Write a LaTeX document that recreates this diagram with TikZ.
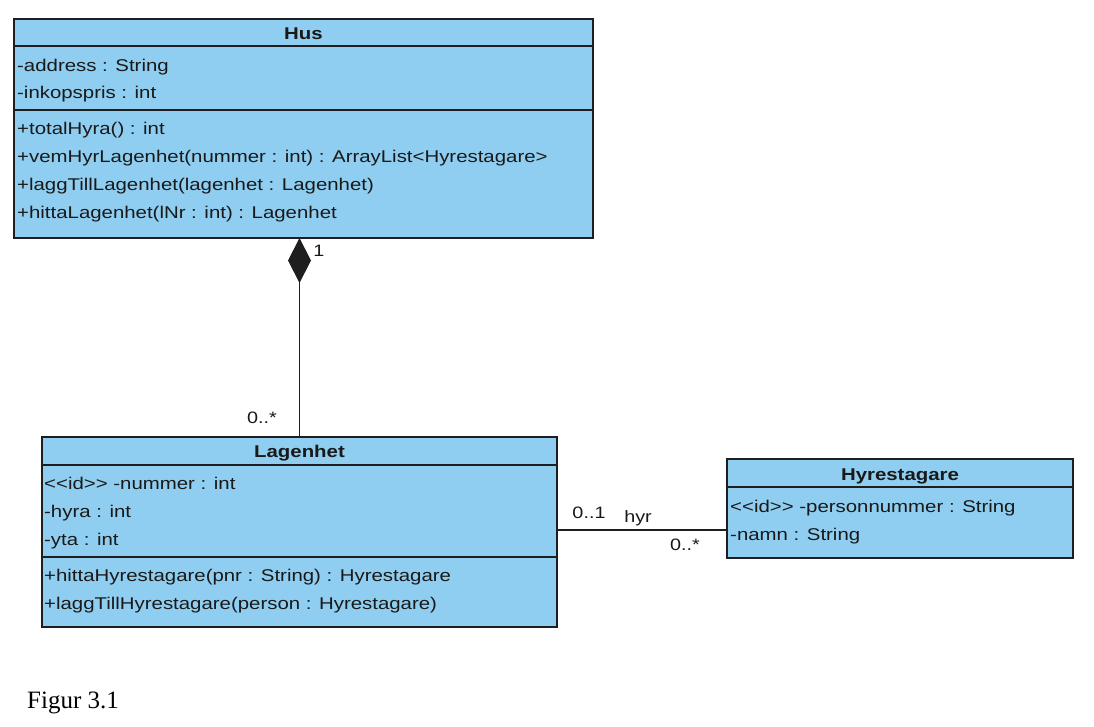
\documentclass[tikz,border=0pt]{standalone}
\usepackage{fontspec}
\setmainfont{Liberation Sans}[FakeStretch=1.2]
\newfontfamily\figfont{Liberation Serif}
\usetikzlibrary{arrows.meta}
\definecolor{umlfill}{RGB}{143,206,240}
\definecolor{txtcol}{RGB}{25,25,25}
\definecolor{edgecol}{RGB}{30,30,30}
\begin{document}
\begin{tikzpicture}[x=1pt,y=-1pt,
  cls/.style={draw=edgecol, fill=umlfill, line width=1.3pt, rectangle, inner sep=0pt, outer sep=0pt},
  sepline/.style={draw=edgecol, line width=1.3pt},
  txt/.style={anchor=base west, inner sep=0pt, text=txtcol, font=\fontsize{17}{20}\selectfont},
  ttl/.style={anchor=base, inner sep=0pt, text=txtcol, font=\fontsize{17}{20}\selectfont\bfseries},
  mult/.style={anchor=center, inner sep=0pt, text=txtcol, font=\fontsize{16.5}{19}\selectfont},
  conn/.style={draw=edgecol, line width=1.6pt}
]
\useasboundingbox (0,0) rectangle (1094,726);

% ---------- Hus ----------
\node[cls, minimum width=579pt, minimum height=219pt] (hus) at (303.5,128.5) {};
\draw[sepline] ([yshift=-27pt]hus.north west) -- ([yshift=-27pt]hus.north east);
\draw[sepline] ([yshift=-91pt]hus.north west) -- ([yshift=-91pt]hus.north east);
\node[ttl] (husT) at (303.5,39) {Hus};
\node[txt] (husA1) at (17,71) {-address : String};
\node[txt] (husA2) at (17,98) {-inkopspris : int};
\node[txt] (husM1) at (17,134) {+totalHyra() : int};
\node[txt] (husM2) at (17,162) {+vemHyrLagenhet(nummer : int) : ArrayList<Hyrestagare>};
\node[txt] (husM3) at (17,190) {+laggTillLagenhet(lagenhet : Lagenhet)};
\node[txt] (husM4) at (17,218) {+hittaLagenhet(lNr : int) : Lagenhet};

% ---------- Lagenhet ----------
\node[cls, minimum width=515pt, minimum height=190pt] (lag) at (299.5,532) {};
\draw[sepline] ([yshift=-28pt]lag.north west) -- ([yshift=-28pt]lag.north east);
\draw[sepline] ([yshift=-120pt]lag.north west) -- ([yshift=-120pt]lag.north east);
\node[ttl] (lagT) at (299.5,457) {Lagenhet};
\node[txt] (lagA1) at (44,489) {<{}<id>{}> -nummer : int};
\node[txt] (lagA2) at (44,517) {-hyra : int};
\node[txt] (lagA3) at (44,545) {-yta : int};
\node[txt] (lagM1) at (44,581) {+hittaHyrestagare(pnr : String) : Hyrestagare};
\node[txt] (lagM2) at (44,609) {+laggTillHyrestagare(person : Hyrestagare)};

% ---------- Hyrestagare ----------
\node[cls, minimum width=346pt, minimum height=99pt] (hyr) at (900,508.5) {};
\draw[sepline] ([yshift=-28pt]hyr.north west) -- ([yshift=-28pt]hyr.north east);
\node[ttl] (hyrT) at (900,480) {Hyrestagare};
\node[txt] (hyrA1) at (730,512) {<{}<id>{}> -personnummer : String};
\node[txt] (hyrA2) at (730,540) {-namn : String};

% ---------- Composition Hus <>-- Lagenhet ----------
\draw[conn, -{Diamond[length=45pt, width=23pt, fill=edgecol]}] (lag.north) -- (hus.south -| lag.north);
\node[mult] (m1) at (319,251) {1};
\node[mult] (m2) at (262,418) {0..*};

% ---------- Association Lagenhet -- Hyrestagare ----------
\draw[conn] ([yshift=2pt]lag.east) -- ([yshift=2pt]lag.east -| hyr.west);
\node[mult] (m3) at (589,513) {0..1};
\node[mult] (an) at (638,518) {hyr};
\node[mult] (m4) at (685,545) {0..*};

% ---------- Caption ----------
\node[anchor=base west, inner sep=0pt, font=\figfont\fontsize{25}{30}\selectfont] (cap) at (27,708) {Figur 3.1};
\end{tikzpicture}
\end{document}
